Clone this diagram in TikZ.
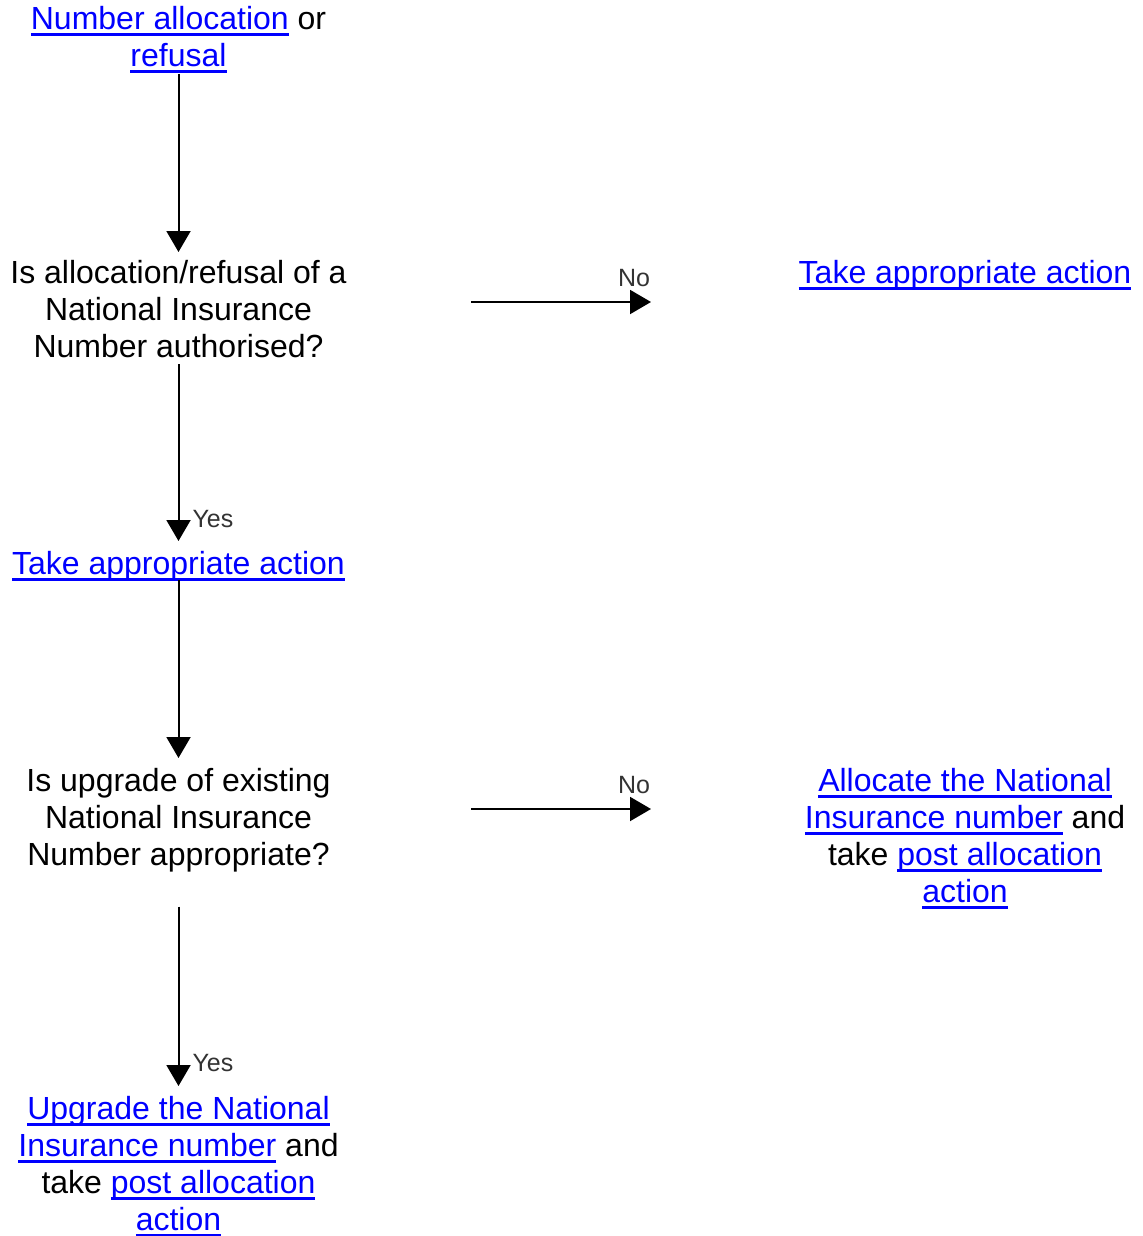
\documentclass[tikz,border=0pt]{standalone}
\usepackage{fontspec}
\setmainfont{Liberation Sans}
\usetikzlibrary{arrows.meta}
\usetikzlibrary{positioning}
\definecolor{linkblue}{RGB}{0,0,255}
\newcommand{\textlink}[1]{\textcolor{linkblue}{\setbox0=\hbox{#1}\rlap{\rule[-3pt]{\wd0}{1.1pt}}\box0}}

\begin{document}
\begin{tikzpicture}[x=0.5pt,y=-0.5pt,
    box/.style={anchor=north,inner sep=0pt,align=center,font=\fontsize{16}{18.5}\selectfont},
    flow/.style={line width=1pt,-{Triangle[width=12pt,length=10.5pt]}},
    answer/.style={inner sep=0pt,text=black!80,font=\fontsize{12.5}{14}\selectfont}]
    \useasboundingbox (0,0) rectangle (1143,1236);

    \node[box] (start) at (178.5, 6) {\textlink{Number allocation} or\\ \textlink{refusal}};
    \node[box] (authq) at (178.5, 260) {Is allocation/refusal of a\\ National Insurance\\ Number authorised?};
    \node[box] (actno) at (965, 260) {\textlink{Take appropriate action}};
    \node[box] (actyes) at (178.5, 551) {\textlink{Take appropriate action}};
    \node[box] (upgq) at (178.5, 768) {Is upgrade of existing\\ National Insurance\\ Number appropriate?};
    \node[box] (alloc) at (965, 768) {\textlink{Allocate the National}\\ \textlink{Insurance number} and\\ take \textlink{post allocation}\\ \textlink{action}};
    \node[box] (upgrade) at (178.5, 1096) {\textlink{Upgrade the National}\\ \textlink{Insurance number} and\\ take \textlink{post allocation}\\ \textlink{action}};

    \coordinate (authno) at (471, 302);
    \coordinate (authnoend) at (651, 302);
    \coordinate (upgno) at (471, 809);
    \coordinate (upgnoend) at (651, 809);

    \draw [flow,shorten <=0.5pt,shorten >=4pt] (start.south) -- (authq.north);
    \draw [flow,shorten <=3pt,shorten >=5pt] (authq.south) --node[answer,pos=1,anchor=south west,xshift=6.5pt,yshift=11pt]{Yes} (actyes.north);
    \draw [flow] (authno) --node[answer,pos=1,anchor=south east,yshift=7.3pt]{No} (authnoend);
    \draw [flow,shorten <=-1pt,shorten >=5pt] (actyes.south) -- (upgq.north);
    \draw [flow,shorten <=17pt,shorten >=5pt] (upgq.south) --node[answer,pos=1,anchor=south west,xshift=6.5pt,yshift=11.5pt]{Yes} (upgrade.north);
    \draw [flow] (upgno) --node[answer,pos=1,anchor=south east,yshift=7.3pt]{No} (upgnoend);
\end{tikzpicture}
\end{document}
